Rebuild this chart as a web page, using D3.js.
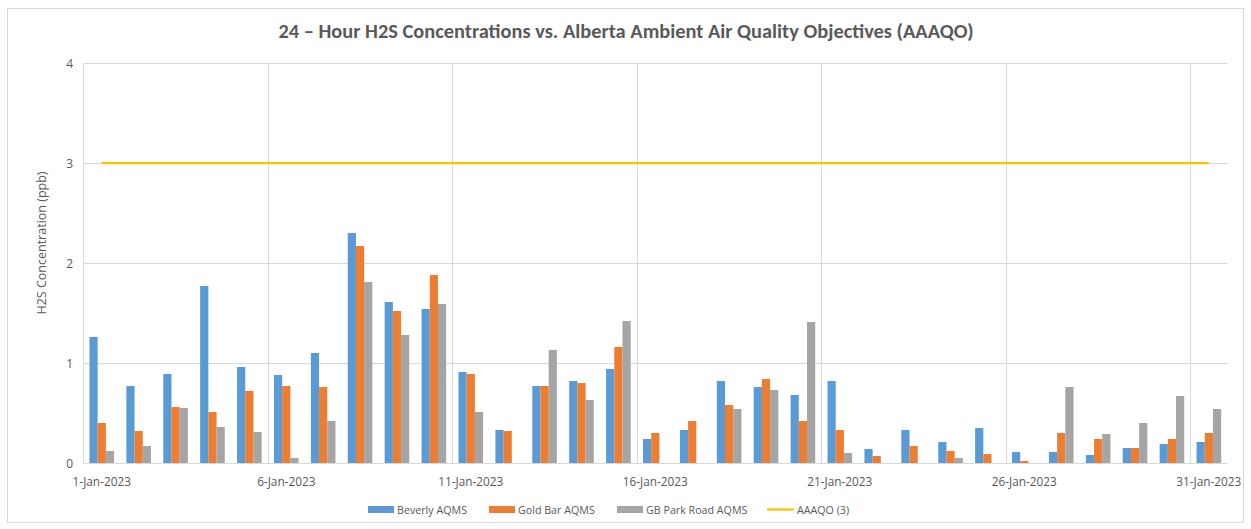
<!DOCTYPE html>
<html>
<head>
<meta charset="utf-8">
<script src="https://cdn.jsdelivr.net/npm/d3@7"></script>
<style>
  body { margin: 0; background: #fff; }
  text { font-family: "Open Sans", "Noto Sans", sans-serif; }
  .title { font-family: Carlito, Calibri, Lato, sans-serif; }
</style>
</head>
<body>
<script>
// data
var days = d3.range(1, 32).map(function(d){ return d + "-Jan-2023"; });
var seriesNames = ["Beverly AQMS", "Gold Bar AQMS", "GB Park Road AQMS"];
var beverly = [1.26, 0.77, 0.89, 1.77, 0.96, 0.88, 1.10, 2.30, 1.61, 1.54,
               0.91, 0.33, 0.77, 0.82, 0.94, 0.24, 0.33, 0.82, 0.76, 0.68,
               0.82, 0.14, 0.33, 0.21, 0.35, 0.11, 0.11, 0.08, 0.15, 0.19, 0.21];
var goldBar = [0.40, 0.32, 0.56, 0.51, 0.72, 0.77, 0.76, 2.17, 1.52, 1.88,
               0.89, 0.32, 0.77, 0.80, 1.16, 0.30, 0.42, 0.58, 0.84, 0.42,
               0.33, 0.07, 0.17, 0.12, 0.09, 0.02, 0.30, 0.24, 0.15, 0.24, 0.30];
var gbPark = [0.12, 0.17, 0.55, 0.36, 0.31, 0.05, 0.42, 1.81, 1.28, 1.59,
              0.51, null, 1.13, 0.63, 1.42, null, null, 0.54, 0.73, 1.41,
              0.10, null, null, 0.05, null, null, 0.76, 0.29, 0.40, 0.67, 0.54];
var objectiveName = "AAAQO (3)";
var objective = 3;
var yTicks = [0, 1, 2, 3, 4];
var xTickLabels = ["1-Jan-2023", "6-Jan-2023", "11-Jan-2023", "16-Jan-2023",
                   "21-Jan-2023", "26-Jan-2023", "31-Jan-2023"];

var colors = ["#5B9BD5", "#ED7D31", "#A5A5A5"];
var lineColor = "#FFC000";
var textColor = "#595959";
var gridColor = "#D9D9D9";

var width = 1251, height = 529;
var margin = {left: 83.3, right: 1251 - 1227.3, top: 63, bottom: 529 - 463};

var svg = d3.select("body").append("svg")
    .attr("width", width)
    .attr("height", height);

// chart border
svg.append("rect")
    .attr("x", 7.5).attr("y", 8.5)
    .attr("width", 1236).attr("height", 514)
    .attr("fill", "#fff")
    .attr("stroke", gridColor);

// scales
var x = d3.scaleBand()
    .domain(days)
    .range([margin.left, width - margin.right])
    .paddingInner(0).paddingOuter(0);

// 150% gap between day groups
var x1 = d3.scaleBand()
    .domain(seriesNames)
    .range([0, x.bandwidth()])
    .paddingInner(0).paddingOuter(0.75);

var y = d3.scaleLinear()
    .domain([0, 4])
    .range([height - margin.bottom, margin.top]);

var g = svg.append("g");

// horizontal grid
g.selectAll(".hgrid")
  .data(yTicks)
  .enter().append("line")
    .attr("class", "hgrid")
    .attr("x1", margin.left).attr("x2", width - margin.right)
    .attr("y1", function(d){ return Math.round(y(d)) + 0.5; })
    .attr("y2", function(d){ return Math.round(y(d)) + 0.5; })
    .attr("stroke", gridColor);

// vertical grid at the start of every 5th day
g.selectAll(".vgrid")
  .data(xTickLabels)
  .enter().append("line")
    .attr("class", "vgrid")
    .attr("x1", function(d){ return Math.round(x(d)) + 0.5; })
    .attr("x2", function(d){ return Math.round(x(d)) + 0.5; })
    .attr("y1", y(4)).attr("y2", y(0))
    .attr("stroke", gridColor);

// y tick labels
g.selectAll(".ylab")
  .data(yTicks)
  .enter().append("text")
    .attr("class", "ylab")
    .attr("x", 73)
    .attr("y", function(d){ return y(d) + 4.5; })
    .attr("text-anchor", "end")
    .attr("font-size", 12)
    .attr("fill", textColor)
    .text(function(d){ return d; });

// x tick labels
g.selectAll(".xlab")
  .data(xTickLabels)
  .enter().append("text")
    .attr("class", "xlab")
    .attr("x", function(d){ return x(d) + x.bandwidth() / 2; })
    .attr("y", 486)
    .attr("text-anchor", "middle")
    .attr("font-size", 11.8)
    .attr("fill", textColor)
    .text(function(d){ return d; });

// bars
var allSeries = [beverly, goldBar, gbPark];
allSeries.forEach(function(values, si){
    g.selectAll(".bar" + si)
      .data(values.map(function(v, i){ return {day: days[i], v: v}; })
                  .filter(function(d){ return d.v != null; }))
      .enter().append("rect")
        .attr("class", "bar" + si)
        .attr("x", function(d){ return x(d.day) + x1(seriesNames[si]); })
        .attr("width", x1.bandwidth())
        .attr("y", function(d){ return y(d.v); })
        .attr("height", function(d){ return y(0) - y(d.v); })
        .attr("fill", colors[si]);
});

// objective line
g.append("line")
    .attr("x1", x(days[0]) + x.bandwidth() / 2)
    .attr("x2", x(days[days.length - 1]) + x.bandwidth() / 2)
    .attr("y1", y(objective)).attr("y2", y(objective))
    .attr("stroke", lineColor)
    .attr("stroke-width", 2.25);

// title
svg.append("text")
    .attr("class", "title")
    .attr("x", 626).attr("y", 38)
    .attr("text-anchor", "middle")
    .attr("font-size", 20.4)
    .attr("font-weight", "bold")
    .attr("fill", textColor)
    .text("24 \u2013 Hour H2S Concentrations vs. Alberta Ambient Air Quality Objectives (AAAQO)");

// y axis title
svg.append("text")
    .attr("transform", "translate(46,243) rotate(-90)")
    .attr("text-anchor", "middle")
    .attr("font-size", 12.5)
    .attr("fill", textColor)
    .text("H2S Concentration (ppb)");

// legend
var legendX = [368, 489, 617];
seriesNames.forEach(function(name, i){
    svg.append("rect")
        .attr("x", legendX[i]).attr("y", 506)
        .attr("width", 26).attr("height", 7)
        .attr("fill", colors[i]);
    svg.append("text")
        .attr("x", legendX[i] + 29).attr("y", 514)
        .attr("font-size", 10.7)
        .attr("fill", textColor)
        .text(name);
});
svg.append("line")
    .attr("x1", 767).attr("x2", 794)
    .attr("y1", 509.5).attr("y2", 509.5)
    .attr("stroke", lineColor)
    .attr("stroke-width", 2.25);
svg.append("text")
    .attr("x", 797).attr("y", 514)
    .attr("font-size", 10.7)
    .attr("fill", textColor)
    .text(objectiveName);
</script>
</body>
</html>
